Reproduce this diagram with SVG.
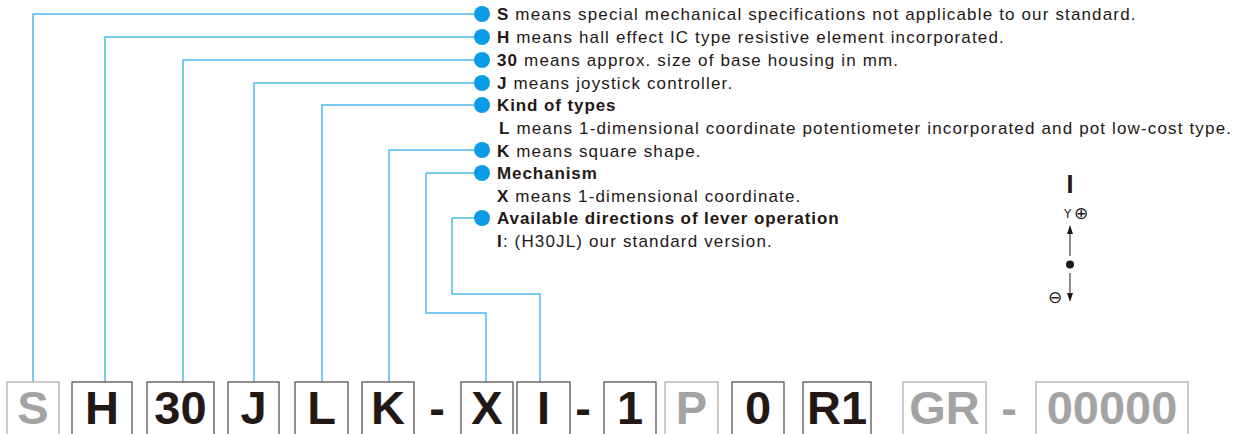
<svg xmlns="http://www.w3.org/2000/svg" width="1245" height="434" viewBox="0 0 1245 434">
<defs>
<style>
.ln{fill:none;stroke:#4bb8ea;stroke-width:1.5}
.dot{fill:#0a9be4}
.t{font-family:"Liberation Sans",Arial,sans-serif;font-size:17px;letter-spacing:1.15px;fill:#231815}
.b{font-weight:bold}
.tb{letter-spacing:0.9px}
.bx{fill:#fff;stroke:#5a5252;stroke-width:1.3}
.bxg{fill:#fff;stroke:#b0b0b0;stroke-width:1.3}
.big{font-family:"Liberation Sans",Arial,sans-serif;font-size:47px;font-weight:bold;fill:#231815;text-anchor:middle}
.g{fill:#a3a3a3}
.sym{font-family:"DejaVu Sans","Liberation Sans",sans-serif;fill:#231815}
</style>
</defs>
<rect width="1245" height="434" fill="#fff"/>
<g id="connectors">
<polyline class="ln" points="33,383 33,14 482,14"/>
<polyline class="ln" points="105,383 105,37 482,37"/>
<polyline class="ln" points="183,383 183,60 482,60"/>
<polyline class="ln" points="254,383 254,83 482,83"/>
<polyline class="ln" points="322,383 322,105 482,105"/>
<polyline class="ln" points="389,383 389,150 482,150"/>
<polyline class="ln" points="426,173 426,313 486,313 486,383"/>
<line class="ln" x1="426" y1="173" x2="482" y2="173"/>
<polyline class="ln" points="452,218 452,294 540,294 540,383"/>
<line class="ln" x1="452" y1="218" x2="482" y2="218"/>
</g>
<g id="legend">
<g id="n-s"><circle class="dot" cx="482" cy="14" r="8"/><text class="t" x="497" y="20"><tspan class="b">S</tspan> means special mechanical specifications not applicable to our standard.</text></g>
<g id="n-h"><circle class="dot" cx="482" cy="37" r="8"/><text class="t" x="497" y="43"><tspan class="b">H</tspan> means hall effect IC type resistive element incorporated.</text></g>
<g id="n-30"><circle class="dot" cx="482" cy="60" r="8"/><text class="t" x="497" y="66"><tspan class="b">30</tspan> means approx. size of base housing in mm.</text></g>
<g id="n-j"><circle class="dot" cx="482" cy="83" r="8"/><text class="t" x="497" y="89"><tspan class="b">J</tspan> means joystick controller.</text></g>
<g id="n-l"><circle class="dot" cx="482" cy="105" r="8"/><text class="t b tb" x="497" y="111">Kind of types</text><text class="t" x="499" y="134"><tspan class="b">L</tspan> means 1-dimensional coordinate potentiometer incorporated and pot low-cost type.</text></g>
<g id="n-k"><circle class="dot" cx="482" cy="150" r="8"/><text class="t" x="497" y="157"><tspan class="b">K</tspan> means square shape.</text></g>
<g id="n-x"><circle class="dot" cx="482" cy="173" r="8"/><text class="t b tb" x="497" y="179">Mechanism</text><text class="t" x="497" y="202"><tspan class="b">X</tspan> means 1-dimensional coordinate.</text></g>
<g id="n-i"><circle class="dot" cx="482" cy="218" r="8"/><text class="t b tb" x="497" y="224">Available directions of lever operation</text><text class="t" x="497" y="247"><tspan class="b">I</tspan>: (H30JL) our standard version.</text></g>
</g>
<g id="direction">
<text x="1070" y="193" text-anchor="middle" style="font-family:'Liberation Sans',Arial,sans-serif;font-size:25px;font-weight:bold;fill:#231815">I</text>
<text class="sym" x="1064" y="218" style="font-size:12px">Y</text>
<text class="sym" x="1074" y="219" style="font-size:17px">⊕</text>
<line x1="1070" y1="232" x2="1070" y2="256" stroke="#231815" stroke-width="1"/>
<polygon points="1070,225 1067,234 1073,234" fill="#231815"/>
<circle cx="1070" cy="264.5" r="4" fill="#231815"/>
<line x1="1070" y1="273" x2="1070" y2="294" stroke="#231815" stroke-width="1"/>
<polygon points="1070,302 1067,293 1073,293" fill="#231815"/>
<text class="sym" x="1048" y="303" style="font-size:17px">⊖</text>
</g>
<g id="code">
<g id="b-s"><rect class="bxg" x="7" y="382" width="52" height="60"/><text class="big g" x="33" y="424">S</text></g>
<g id="b-h"><rect class="bx" x="72" y="382" width="60" height="60"/><text class="big" x="102" y="424">H</text></g>
<g id="b-30"><rect class="bx" x="147" y="382" width="67" height="60"/><text class="big" x="180.5" y="424">30</text></g>
<g id="b-j"><rect class="bx" x="228" y="382" width="51" height="60"/><text class="big" x="253.5" y="424">J</text></g>
<g id="b-l"><rect class="bx" x="295" y="382" width="53" height="60"/><text class="big" x="321.5" y="424">L</text></g>
<g id="b-k"><rect class="bx" x="362" y="382" width="52" height="60"/><text class="big" x="388" y="424">K</text></g>
<text class="big" x="437" y="424">-</text>
<g id="b-x"><rect class="bx" x="461" y="382" width="52" height="60"/><text class="big" x="487" y="424">X</text></g>
<g id="b-i"><rect class="bx" x="517" y="382" width="53" height="60"/><text class="big" x="543.5" y="424">I</text></g>
<text class="big" x="583" y="424">-</text>
<g id="b-1"><rect class="bx" x="604" y="382" width="52" height="60"/><text class="big" x="630" y="424">1</text></g>
<g id="b-p"><rect class="bxg" x="665" y="382" width="53" height="60"/><text class="big g" x="691.5" y="424">P</text></g>
<g id="b-0"><rect class="bx" x="732" y="382" width="52" height="60"/><text class="big" x="758" y="424">0</text></g>
<g id="b-r1"><rect class="bx" x="803" y="382" width="68" height="60"/><text class="big" x="837" y="424">R1</text></g>
<g id="b-gr"><rect class="bxg" x="903" y="382" width="83" height="60"/><text class="big g" x="944.5" y="424">GR</text></g>
<text class="big g" x="1009" y="424">-</text>
<g id="b-00000"><rect class="bxg" x="1036" y="382" width="152" height="60"/><text class="big g" x="1112" y="424">00000</text></g>
</g>
</svg>
